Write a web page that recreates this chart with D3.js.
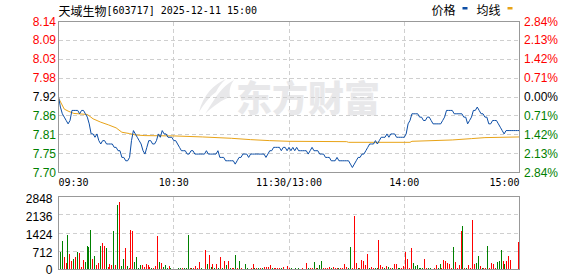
<!DOCTYPE html>
<html>
<head>
<meta charset="utf-8">
<script src="https://cdn.jsdelivr.net/npm/d3@7"></script>
<style>
  html, body { margin: 0; padding: 0; background: #fff; }
  svg { display: block; }
</style>
</head>
<body>
<script>
const width = 578;
const height = 276;

// data
const stockName = '天域生物';
const titleRest = '[603717] 2025-12-11 15:00';
const prevClose = 7.92;
const priceTicks = ['8.14', '8.09', '8.03', '7.98', '7.92', '7.86', '7.81', '7.75', '7.70'];
const pctTicks = [2.84, 2.13, 1.42, 0.71, 0, -0.71, -1.42, -2.13, -2.84];
const volTicks = [2848, 2136, 1424, 712, 0];
const timeLabels = ['09:30', '10:30', '11:30/13:00', '14:00', '15:00'];
const timeIdx = [0, 60, 120, 180, 240];

// minute prices 09:30 .. 11:30, 13:01 .. 15:00
const prices = [
  7.92, 7.89, 7.87, 7.86, 7.85, 7.84, 7.85, 7.88, 7.88, 7.88,
  7.88, 7.87, 7.88, 7.88, 7.87, 7.86, 7.84, 7.81, 7.81, 7.80,
  7.81, 7.79, 7.78, 7.79, 7.79, 7.78, 7.78, 7.78, 7.78, 7.77,
  7.77, 7.76, 7.76, 7.74, 7.74, 7.73, 7.73, 7.74, 7.79, 7.82,
  7.81, 7.80, 7.79, 7.78, 7.76, 7.75, 7.77, 7.79, 7.79, 7.78,
  7.78, 7.79, 7.81, 7.80, 7.82, 7.81, 7.81, 7.80, 7.80, 7.80,
  7.79, 7.79, 7.78, 7.77, 7.76, 7.76, 7.76, 7.75, 7.75, 7.76,
  7.76, 7.75, 7.75, 7.75, 7.75, 7.75, 7.75, 7.76, 7.75, 7.75,
  7.75, 7.75, 7.75, 7.76, 7.74, 7.74, 7.74, 7.73, 7.73, 7.73,
  7.73, 7.73, 7.72, 7.73, 7.74, 7.74, 7.75, 7.75, 7.75, 7.74,
  7.75, 7.75, 7.75, 7.75, 7.75, 7.75, 7.75, 7.75, 7.74, 7.75,
  7.76, 7.76, 7.77, 7.77, 7.77, 7.77, 7.76, 7.77, 7.77, 7.76,
  7.77,
  7.76, 7.77, 7.76, 7.77, 7.76, 7.76, 7.76, 7.76, 7.76, 7.75,
  7.76, 7.77, 7.76, 7.76, 7.76, 7.75, 7.75, 7.75, 7.74, 7.74,
  7.74, 7.73, 7.73, 7.73, 7.74, 7.73, 7.73, 7.73, 7.73, 7.73,
  7.73, 7.72, 7.71, 7.72, 7.73, 7.74, 7.74, 7.75, 7.75, 7.76,
  7.77, 7.78, 7.78, 7.78, 7.79, 7.78, 7.79, 7.80, 7.80, 7.80,
  7.81, 7.80, 7.81, 7.81, 7.81, 7.80, 7.80, 7.80, 7.80, 7.80,
  7.81, 7.84, 7.85, 7.87, 7.87, 7.87, 7.87, 7.86, 7.86, 7.85,
  7.85, 7.86, 7.86, 7.85, 7.84, 7.84, 7.84, 7.84, 7.84, 7.85,
  7.86, 7.88, 7.88, 7.88, 7.88, 7.87, 7.87, 7.87, 7.87, 7.87,
  7.86, 7.86, 7.84, 7.85, 7.86, 7.88, 7.88, 7.89, 7.88, 7.87,
  7.87, 7.86, 7.86, 7.84, 7.84, 7.85, 7.85, 7.85, 7.84, 7.83,
  7.82, 7.81, 7.82, 7.82, 7.82, 7.82, 7.82, 7.82, 7.82, 7.82
];

// average price line, read at these minutes
const avgIdx = [0, 3, 5, 8, 15, 18, 22, 26, 30, 33, 37, 40, 45, 60, 75, 90, 100, 110, 120,
  150, 151, 183, 184, 205, 215, 222, 240];
const avgPrice = [7.917, 7.884, 7.878, 7.871, 7.868, 7.855, 7.845, 7.837, 7.828, 7.815, 7.811,
  7.807, 7.805, 7.804, 7.801, 7.797, 7.793, 7.790, 7.788, 7.787, 7.785, 7.785, 7.788, 7.792,
  7.796, 7.799, 7.801];

// minute volume and direction (1 = up / red, 0 = down / green)
const volumes = [
  700, 1100, 500, 260, 1350, 610, 340, 420, 470, 690,
  650, 80, 380, 300, 920, 880, 1550, 420, 530, 180,
  270, 920, 1050, 920, 830, 80, 220, 180, 1500, 180,
  2520, 2640, 140, 420, 845, 120, 50, 1550, 1500, 290,
  490, 50, 160, 160, 100, 220, 180, 80, 40, 50,
  120, 1310, 300, 260, 90, 180, 50, 120, 50, 30,
  26, 26, 50, 40, 60, 40, 40, 1330, 60, 40,
  40, 120, 50, 310, 60, 30, 780, 230, 585, 80,
  220, 60, 230, 60, 470, 60, 340, 170, 340, 50,
  60, 40, 570, 60, 340, 40, 30, 220, 40, 30,
  40, 220, 40, 40, 50, 40, 50, 80, 80, 80,
  180, 40, 50, 40, 40, 50, 50, 80, 30, 140,
  60,
  40, 30, 40, 30, 40, 30, 40, 30, 260, 40,
  50, 40, 300, 40, 50, 160, 340, 40, 60, 40,
  80, 40, 100, 50, 40, 50, 40, 40, 220, 80,
  40, 880, 60, 2090, 260, 50, 50, 380, 340, 180,
  610, 50, 100, 50, 50, 40, 1160, 180, 100, 50,
  140, 100, 40, 40, 220, 220, 40, 40, 40, 140,
  690, 420, 50, 845, 260, 140, 180, 50, 40, 40,
  420, 40, 40, 50, 30, 40, 180, 40, 220, 40,
  380, 340, 260, 220, 50, 880, 300, 50, 180, 1500,
  1700, 40, 50, 180, 40, 1940, 220, 260, 530, 140,
  40, 40, 40, 920, 40, 260, 220, 50, 300, 340,
  770, 340, 220, 340, 530, 380, 0, 0, 0, 1080
];
const volUp = [
  0, 0, 1, 1, 0, 1, 1, 0, 1, 0,
  1, 1, 1, 0, 0, 0, 0, 1, 0, 1,
  1, 0, 1, 1, 0, 1, 1, 1, 0, 1,
  0, 1, 0, 0, 1, 0, 1, 1, 1, 0,
  0, 0, 0, 1, 1, 1, 1, 1, 0, 1,
  1, 1, 0, 1, 0, 0, 0, 1, 0, 0,
  0, 0, 0, 0, 1, 0, 0, 0, 1, 0,
  1, 1, 1, 1, 0, 1, 1, 0, 1, 0,
  1, 0, 1, 0, 1, 0, 1, 0, 1, 0,
  1, 1, 0, 1, 0, 1, 0, 0, 0, 0,
  1, 1, 0, 1, 0, 1, 0, 1, 1, 1,
  1, 0, 1, 1, 1, 1, 0, 1, 1, 1,
  1,
  0, 1, 0, 1, 0, 0, 1, 0, 1, 0,
  1, 1, 0, 1, 0, 0, 0, 1, 1, 1,
  1, 0, 1, 1, 1, 0, 1, 1, 1, 1,
  0, 0, 1, 1, 1, 0, 1, 1, 1, 1,
  1, 0, 1, 1, 0, 0, 1, 1, 1, 0,
  1, 0, 1, 0, 1, 1, 0, 0, 1, 1,
  1, 1, 1, 1, 0, 0, 0, 0, 0, 0,
  1, 1, 0, 0, 1, 1, 1, 0, 0, 1,
  1, 1, 1, 1, 1, 0, 1, 1, 1, 1,
  0, 1, 0, 1, 1, 1, 1, 0, 0, 1,
  0, 1, 1, 0, 1, 1, 1, 1, 0, 0,
  0, 1, 0, 1, 1, 1, 1, 1, 1, 1
];

const box = { left: 58.5, right: 519.5, top: 21.5, bottom: 172.5 };
const vbox = { top: 196.5, bottom: 269.5 };
const red = '#ff0000';
const green = '#008000';
const gridColor = '#cfcfcf';
const borderColor = '#999999';
const axisFont = '"Liberation Sans", Arial, sans-serif';
const monoFont = '"DejaVu Sans Mono", "Liberation Mono", monospace';
const cjkFont = '"Noto Sans CJK SC", sans-serif';

const svg = d3.select('body')
  .append('svg')
  .attr('width', width)
  .attr('height', height);

const maxPct = d3.max(pctTicks) / 100;
const xScale = d3.scaleLinear().domain([0, 240]).range([box.left, box.right]);
const xBar = d3.scaleLinear().domain([0, 240]).range([60.3, 518.3]);
const yScale = d3.scaleLinear()
  .domain([prevClose * (1 - maxPct), prevClose * (1 + maxPct)])
  .range([box.bottom, box.top]);
const yVol = d3.scaleLinear().domain([0, d3.max(volTicks)]).range([vbox.bottom, vbox.top]);
const crisp = (v) => Math.round(v - 0.5) + 0.5;
const tickColor = (p) => p > 0 ? red : (p < 0 ? green : '#000');

// watermark
const wm = svg.append('g').attr('fill', '#e8e8ea');
wm.append('path')
  .attr('d', 'M226 79 C214 84 203 95 199 112 C204 104 209 97 216 92 C218 88 221 83 226 79 Z');
wm.append('path')
  .attr('d', 'M234 80 C226 84 219 92 214 100 C210 106 207 111 205 114 C213 106 222 100 230 97 C229 91 230 85 234 80 Z');
wm.append('text')
  .attr('x', 236)
  .attr('y', 96)
  .attr('dominant-baseline', 'central')
  .attr('font-family', cjkFont)
  .attr('font-weight', 900)
  .attr('font-size', 36)
  .text('东方财富');

// title
const title = svg.append('text')
  .attr('x', 58.5)
  .attr('y', 9.5)
  .attr('dominant-baseline', 'central')
  .attr('fill', '#000');
title.append('tspan').attr('font-family', cjkFont).attr('font-size', 12).text(stockName);
title.append('tspan').attr('font-family', monoFont).attr('font-size', 10).text(titleRest);

// legend
const legend = [
  { name: '价格', x: 431.5, color: '#0d4ea6' },
  { name: '均线', x: 476.5, color: '#e8a317' }
];
legend.forEach((d) => {
  svg.append('text')
    .attr('x', d.x)
    .attr('y', 9.5)
    .attr('dominant-baseline', 'central')
    .attr('font-family', cjkFont)
    .attr('font-size', 12)
    .attr('fill', '#000')
    .text(d.name);
  svg.append('rect')
    .attr('x', d.x + 31)
    .attr('y', 7)
    .attr('width', 5)
    .attr('height', 2.5)
    .attr('fill', d.color);
});

// price grid
const grid = svg.append('g')
  .attr('stroke', gridColor)
  .attr('stroke-dasharray', '4,3')
  .attr('shape-rendering', 'crispEdges');
pctTicks.slice(1, -1).forEach((p) => {
  const y = crisp(yScale(prevClose * (1 + p / 100)));
  grid.append('line').attr('x1', box.left).attr('x2', box.right).attr('y1', y).attr('y2', y);
});
timeIdx.slice(1, -1).forEach((i) => {
  const x = crisp(xScale(i));
  grid.append('line').attr('x1', x).attr('x2', x).attr('y1', box.top).attr('y2', box.bottom);
  grid.append('line').attr('x1', x).attr('x2', x).attr('y1', vbox.top).attr('y2', vbox.bottom);
});
volTicks.slice(1, -1).forEach((v) => {
  const y = crisp(yVol(v));
  grid.append('line').attr('x1', box.left).attr('x2', box.right).attr('y1', y).attr('y2', y);
});

// price axis labels
pctTicks.forEach((p, i) => {
  const y = yScale(prevClose * (1 + p / 100));
  svg.append('text')
    .attr('x', 56)
    .attr('y', y)
    .attr('text-anchor', 'end')
    .attr('dominant-baseline', 'central')
    .attr('font-family', axisFont)
    .attr('font-size', 12)
    .attr('fill', tickColor(p))
    .text(priceTicks[i]);
  svg.append('text')
    .attr('x', 524)
    .attr('y', y)
    .attr('dominant-baseline', 'central')
    .attr('font-family', axisFont)
    .attr('font-size', 12)
    .attr('fill', tickColor(p))
    .text(Math.abs(p).toFixed(2) + '%');
});

// time labels
timeLabels.forEach((t, i) => {
  const anchor = i === 0 ? 'start' : (i === timeLabels.length - 1 ? 'end' : 'middle');
  svg.append('text')
    .attr('x', xScale(timeIdx[i]))
    .attr('y', 182)
    .attr('text-anchor', anchor)
    .attr('dominant-baseline', 'central')
    .attr('font-family', monoFont)
    .attr('font-size', 10)
    .attr('fill', '#000')
    .text(t);
});

// volume labels
volTicks.forEach((v) => {
  svg.append('text')
    .attr('x', 52.5)
    .attr('y', Math.min(yVol(v) + 2, 269.5))
    .attr('text-anchor', 'end')
    .attr('dominant-baseline', 'central')
    .attr('font-family', axisFont)
    .attr('font-size', 12)
    .attr('fill', '#000')
    .text(v);
});

// volume bars
svg.append('g')
  .attr('shape-rendering', 'crispEdges')
  .selectAll('rect')
  .data(volumes)
  .enter()
  .append('rect')
  .attr('x', (d, i) => Math.floor(xBar(i)))
  .attr('y', (d) => yVol(d))
  .attr('width', 1)
  .attr('height', (d) => yVol(0) - yVol(d))
  .attr('fill', (d, i) => volUp[i] ? red : green);

// average line
const avgLine = d3.line()
  .x((d) => xScale(d[0]))
  .y((d) => yScale(d[1]));
svg.append('path')
  .datum(avgIdx.map((m, i) => [m, avgPrice[i]]))
  .attr('fill', 'none')
  .attr('stroke', '#e8a317')
  .attr('stroke-width', 1)
  .attr('d', avgLine);

// price line
const priceLine = d3.line()
  .x((d, i) => xScale(i))
  .y((d) => yScale(d));
svg.append('path')
  .datum(prices)
  .attr('fill', 'none')
  .attr('stroke', '#0d4ea6')
  .attr('stroke-width', 1)
  .attr('d', priceLine);

// borders
[[box.top, box.bottom], [vbox.top, vbox.bottom]].forEach((b) => {
  svg.append('rect')
    .attr('x', box.left)
    .attr('y', b[0])
    .attr('width', box.right - box.left)
    .attr('height', b[1] - b[0])
    .attr('fill', 'none')
    .attr('stroke', borderColor)
    .attr('shape-rendering', 'crispEdges');
});
</script>
</body>
</html>
